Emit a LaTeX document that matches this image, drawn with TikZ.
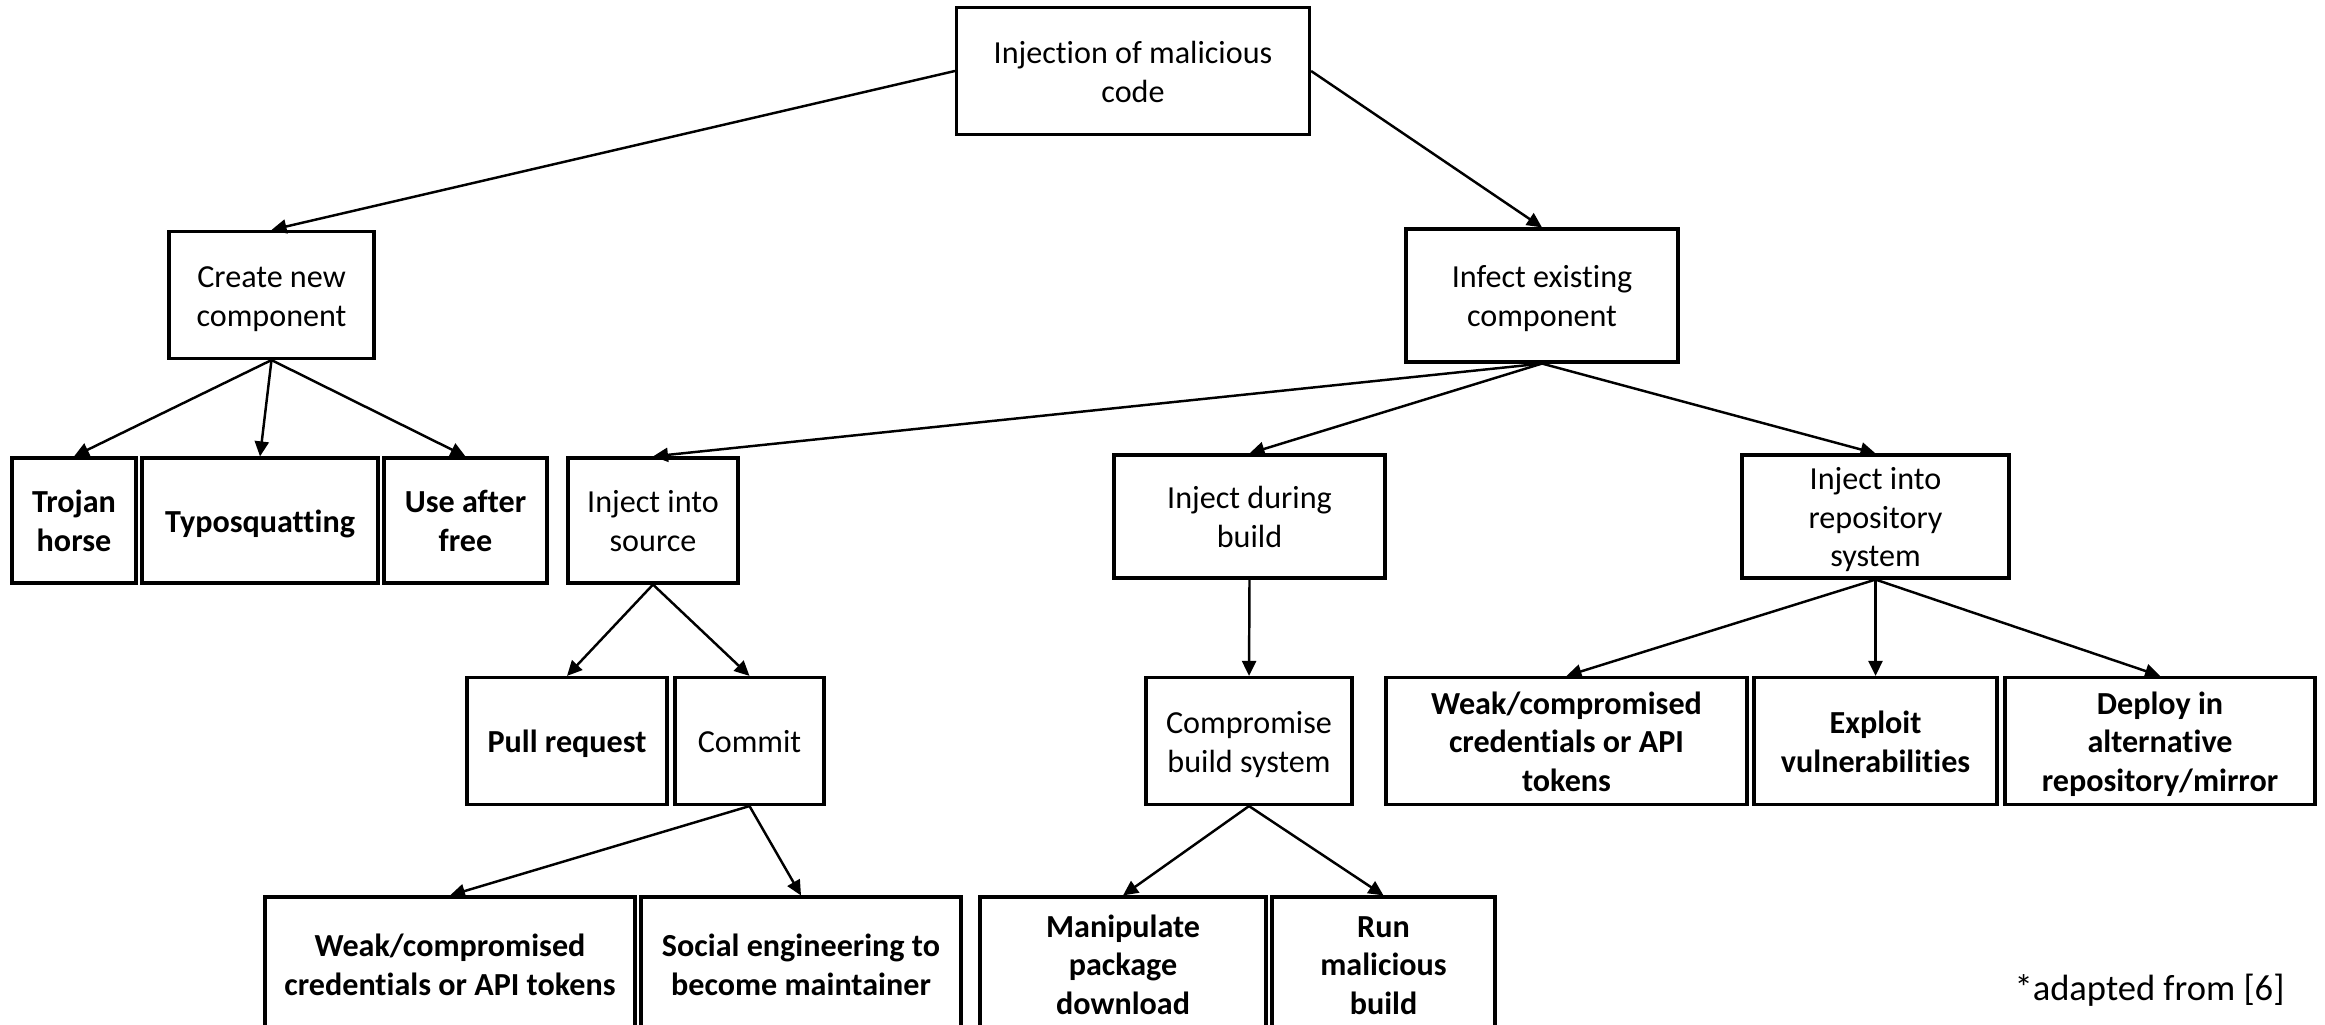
\documentclass[tikz,border=0pt]{standalone}
\usepackage{fontspec}
\setmainfont{Carlito}[Ligatures=NoCommon]
\usetikzlibrary{arrows.meta}
\newcommand{\topgap}{\rule{0pt}{9.3pt}}
\newcommand{\botgap}{\rule[-2.6pt]{0pt}{2.6pt}}
\begin{document}
\begin{tikzpicture}[x=0.1mm, y=-0.1mm, -{Triangle[length=1.5mm, width=1.4mm]}, line width=0.7pt]
\useasboundingbox (0,0) rectangle (2325,1025);
\clip (0,0) rectangle (2325,1025);
\tikzstyle{every node} = [draw, rectangle, align=center, inner sep=0pt, line width=0.9pt, minimum height=12.7mm, font=\fontsize{9.14}{11}\selectfont]
\tikzstyle{leaf} = [font=\fontsize{9.14}{11}\selectfont\bfseries]
% top levels
\node[minimum width=35.3mm] (root) at (1133,71) {\topgap Injection of malicious\\code\botgap};
\node[minimum width=20.5mm] (new) at (271.5,295) {\topgap Create new\\component\botgap};
\node[minimum width=27.2mm, minimum height=13.3mm] (infect) at (1542,295.5) {\topgap Infect existing\\component\botgap};
% third row
\node[leaf, minimum width=12.4mm, minimum height=12.5mm] (trojan) at (74,520.5) {\topgap Trojan\\horse\botgap};
\node[leaf, minimum width=23.6mm, minimum height=12.5mm] (typo) at (260,520.5) {\topgap Typosquatting\botgap};
\node[leaf, minimum width=16.3mm, minimum height=12.5mm] (uaf) at (465.5,520.5) {\topgap Use after\\free\botgap};
\node[minimum width=17mm, minimum height=12.5mm] (source) at (653,520.5) {\topgap Inject into\\source\botgap};
\node[minimum width=27.1mm, minimum height=12.3mm] (build) at (1249.5,516.5) {\topgap Inject during\\build\botgap};
\node[minimum width=26.7mm, minimum height=12.3mm] (repo) at (1875.5,516.5) {\topgap Inject into\\repository\\system\botgap};
% fourth row
\node[leaf, minimum width=20mm] (pull) at (567,741) {\topgap Pull request\botgap};
\node[minimum width=14.9mm] (commit) at (749.5,741) {\topgap Commit\botgap};
\node[minimum width=20.6mm] (buildsys) at (1249,741) {\topgap Compromise\\build system\botgap};
\node[leaf, minimum width=36.1mm] (weakrepo) at (1566.5,741) {\topgap Weak/compromised\\credentials or API\\tokens\botgap};
\node[leaf, minimum width=24.3mm] (exploit) at (1875.5,741) {\topgap Exploit\\vulnerabilities\botgap};
\node[leaf, minimum width=31mm] (deploy) at (2160,741) {\topgap Deploy in\\alternative\\repository/mirror\botgap};
% bottom row
\node[leaf, minimum width=37mm, minimum height=13.4mm] (weak) at (450,964) {\topgap Weak/compromised\\credentials or API tokens\botgap};
\node[leaf, minimum width=32mm, minimum height=13.4mm] (social) at (801,964) {\topgap Social engineering to\\become maintainer\botgap};
\node[leaf, minimum width=28.6mm, minimum height=13.4mm] (manip) at (1123,964) {\topgap Manipulate\\package\\download\botgap};
\node[leaf, minimum width=22.3mm, minimum height=13.4mm] (run) at (1383.5,964) {\topgap Run\\malicious\\build\botgap};
\node[draw=none, minimum height=0pt, font=\fontsize{10.4}{12}\selectfont] (src) at (2149.5,990) {*adapted from [6]};
% connectors
\draw (root.west) -- (new.north);
\draw (root.east) -- (infect.north);
\draw (new.south) -- (trojan.north);
\draw (new.south) -- (typo.north);
\draw (new.south) -- (uaf.north);
\draw (infect.south) -- (source.north);
\draw (infect.south) -- (build.north);
\draw (infect.south) -- (repo.north);
\draw (source.south) -- (pull.north);
\draw (source.south) -- (commit.north);
\draw (build.south) -- (buildsys.north);
\draw (repo.south) -- (weakrepo.north);
\draw (repo.south) -- (exploit.north);
\draw (repo.south) -- (deploy.north);
\draw (commit.south) -- (weak.north);
\draw (commit.south) -- (social.north);
\draw (buildsys.south) -- (manip.north);
\draw (buildsys.south) -- (run.north);
\end{tikzpicture}
\end{document}
